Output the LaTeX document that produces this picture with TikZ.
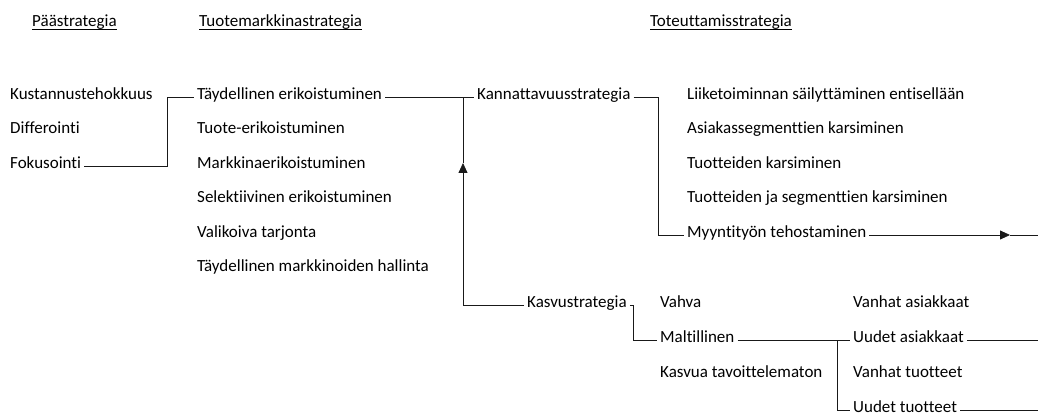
\documentclass[tikz,border=0pt]{standalone}
\usepackage{fontspec}
\setmainfont{Carlito}[Ligatures={NoCommon}]
\usetikzlibrary{arrows.meta}
\begin{document}
\begin{tikzpicture}[x=1pt,y=-1pt,
  lbl/.style={anchor=west,inner xsep=3pt,inner ysep=0pt,text height=1ex,text depth=0pt,font=\fontsize{17}{20}\selectfont},
  hdr/.style={anchor=base west,inner sep=0pt,font=\fontsize{17}{20}\selectfont},
  conn/.style={line width=0.8pt,draw=black!90},
  tri/.style={conn,-{Triangle[length=10pt,width=9pt]}}]
\useasboundingbox (0,0) rectangle (1038,414);
% headers
\node[hdr] (h1) at (32,27) {Päästrategia};
\node[hdr] (h2) at (199,27) {Tuotemarkkinastrategia};
\node[hdr] (h3) at (650,27) {Toteuttamisstrategia};
\foreach \h in {h1,h2,h3}{\draw[line width=0.8pt] ([yshift=-2.5pt]\h.base west) -- ([yshift=-2.5pt]\h.base east);}
% left column
\node[lbl] (kus) at (7,97) {Kustannustehokkuus};
\node[lbl] (dif) at (7,131.5) {Differointi};
\node[lbl] (fok) at (7,166) {Fokusointi};
% middle column
\node[lbl] (tay) at (194,97) {Täydellinen erikoistuminen};
\node[lbl] (tuo) at (194,131.5) {Tuote-erikoistuminen};
\node[lbl] (mar) at (194,166) {Markkinaerikoistuminen};
\node[lbl] (sel) at (194,200.5) {Selektiivinen erikoistuminen};
\node[lbl] (val) at (194,235) {Valikoiva tarjonta};
\node[lbl] (tmh) at (194,269.5) {Täydellinen markkinoiden hallinta};
% strategy column
\node[lbl] (kan) at (474,97) {Kannattavuusstrategia};
\node[lbl] (kas) at (524,305) {Kasvustrategia};
% right column
\node[lbl] (lii) at (684,97) {Liiketoiminnan säilyttäminen entisellään};
\node[lbl] (asi) at (684,131.5) {Asiakassegmenttien karsiminen};
\node[lbl] (tka) at (684,166) {Tuotteiden karsiminen};
\node[lbl] (tjs) at (684,200.5) {Tuotteiden ja segmenttien karsiminen};
\node[lbl] (myy) at (684,235) {Myyntityön tehostaminen};
% growth
\node[lbl] (vah) at (657,305) {Vahva};
\node[lbl] (mal) at (657,340) {Maltillinen};
\node[lbl] (kta) at (657,375) {Kasvua tavoittelematon};
\node[lbl] (vas) at (850,305) {Vanhat asiakkaat};
\node[lbl] (uas) at (850,340) {Uudet asiakkaat};
\node[lbl] (vtu) at (850,375) {Vanhat tuotteet};
\node[lbl] (utu) at (850,410) {Uudet tuotteet};
% junction coordinates
\coordinate (j1) at (167,0);
\coordinate (j2) at (463,0);
\coordinate (j3) at (658,0);
\coordinate (j4) at (633,0);
\coordinate (j5) at (837,0);
\coordinate (atip) at (463,163);
\coordinate (rtip) at (1010,235);
\coordinate (e1) at (1038,235);
\coordinate (e2) at (1038,340);
\coordinate (e3) at (1038,410);
% connectors
\draw[conn] (fok.east) -| (j1 |- tay.west) -- (tay.west);
\draw[conn] (tay.east) -- (kan.west);
\draw[tri] (kas.west) -| (atip);
\draw[conn] (atip) -- (j2 |- tay.east);
\draw[conn] (kan.east) -| (j3 |- myy.west) -- (myy.west);
\draw[tri] (myy.east) -- (rtip);
\draw[conn] (rtip) -- (e1);
\draw[conn] (kas.east) -| (j4 |- mal.west) -- (mal.west);
\draw[conn] (mal.east) -- (uas.west);
\draw[conn] (j5 |- mal.east) |- (utu.west);
\draw[conn] (uas.east) -- (e2);
\draw[conn] (utu.east) -- (e3);
\end{tikzpicture}
\end{document}
